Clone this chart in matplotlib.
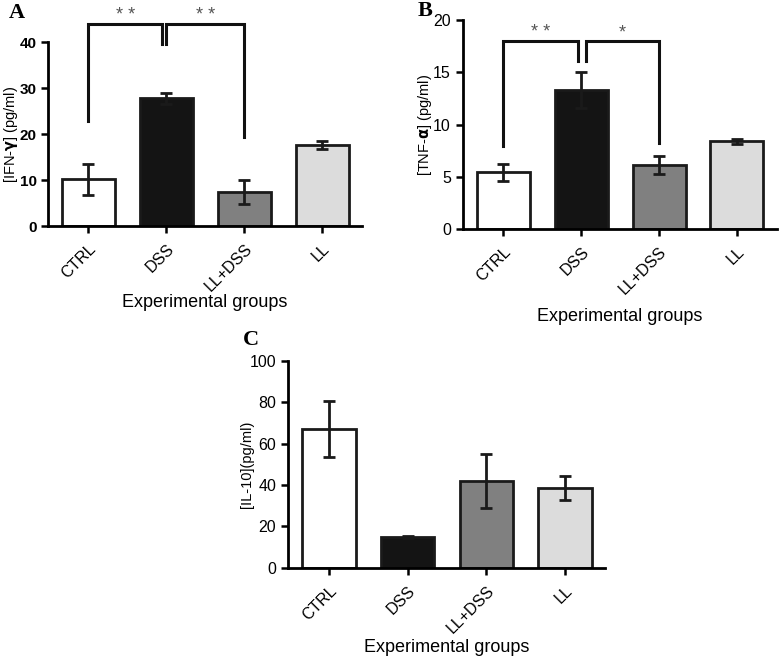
import matplotlib.pyplot as plt

plt.rcParams["font.family"] = ["Liberation Sans", "DejaVu Sans"]

groups = ["CTRL", "DSS", "LL+DSS", "LL"]
colors = ["white", "#141414", "#808080", "#dcdcdc"]

ifn_mean = [10.2, 27.8, 7.5, 17.6]
ifn_err = [3.4, 1.2, 2.6, 0.8]

tnf_mean = [5.4, 13.3, 6.1, 8.4]
tnf_err = [0.85, 1.7, 0.85, 0.25]

il10_mean = [67.0, 15.0, 42.0, 38.5]
il10_err = [13.5, 0.5, 13.0, 6.0]

# significance brackets: (x1, x2, leg1 bottom, leg2 bottom, top, label)
ifn_sig = [(0, 0.95, 22.9, 39.7, 43.9, "* *"), (1.0, 2, 39.7, 19.3, 43.9, "* *")]
tnf_sig = [(0, 0.96, 7.9, 16.1, 18.0, "* *"), (1.06, 2, 16.1, 8.2, 18.0, "*")]


def draw_panel(ax, means, errs, ymax, ystep, ylabel, ylab_x, xlab_y, bold_ticks=False):
    x = list(range(len(groups)))
    ax.bar(x, means, width=0.68, color=colors, edgecolor="#1a1a1a", linewidth=2, zorder=2)
    ax.errorbar(x, means, yerr=errs, fmt="none", ecolor="#1a1a1a", elinewidth=2,
                capsize=4.5, capthick=2, zorder=3)
    ax.set_xlim(-0.52, 3.51)
    ax.set_ylim(0, ymax)
    ax.set_yticks(range(0, ymax + 1, ystep))
    ax.set_xticks(x)
    ax.set_xticklabels(groups, rotation=45, ha="right", rotation_mode="anchor", fontsize=11.5)
    ax.spines["top"].set_visible(False)
    ax.spines["right"].set_visible(False)
    ax.spines["left"].set_linewidth(2)
    ax.spines["bottom"].set_linewidth(2)
    ax.tick_params(width=1.8, length=5, labelsize=11.5)
    ax.tick_params(axis="x", pad=6)
    if bold_ticks:
        ax.tick_params(axis="y", labelsize=11, pad=3)
        for t in ax.get_yticklabels():
            t.set_fontweight("bold")
    ax.set_ylabel(ylabel, fontsize=10.5)
    ax.yaxis.set_label_coords(ylab_x, 0.5)
    ax.yaxis.label.set_va("center")
    ax.set_xlabel("Experimental groups", fontsize=13)
    ax.xaxis.set_label_coords(0.5, xlab_y)
    ax.xaxis.label.set_va("center")


def draw_sig(ax, sigs, dy):
    for x1, x2, b1, b2, top, lab in sigs:
        ax.plot([x1, x1, x2, x2], [b1, top, top, b2], color="#111111", lw=2.2,
                clip_on=False, solid_joinstyle="miter")
        ax.text((x1 + x2) / 2, top + dy, lab, ha="center", va="center",
                fontsize=13, color="#555555", clip_on=False)


fig = plt.figure(figsize=(7.79, 6.59), dpi=100)

axA = fig.add_axes([0.0616, 0.657, 0.403, 0.279])
draw_panel(axA, ifn_mean, ifn_err, 40, 10, "[IFN-$\\mathbf{\\gamma}$] (pg/ml)",
           -0.118, -0.418, bold_ticks=True)
draw_sig(axA, ifn_sig, 1.8)

axB = fig.add_axes([0.594, 0.653, 0.403, 0.316])
draw_panel(axB, tnf_mean, tnf_err, 20, 5, "[TNF-$\\mathbf{\\alpha}$] (pg/ml)",
           -0.121, -0.42)
draw_sig(axB, tnf_sig, 0.8)

axC = fig.add_axes([0.3697, 0.1386, 0.407, 0.314])
draw_panel(axC, il10_mean, il10_err, 100, 20, "[IL-10](pg/ml)", -0.13, -0.388)

for lab, (px, py) in zip(["A", "B", "C"], [(0.021, 0.981), (0.546, 0.983), (0.322, 0.484)]):
    fig.text(px, py, lab, fontsize=16, fontweight="bold",
             family=["Liberation Serif", "DejaVu Serif"], va="center", ha="center")

fig.savefig("out.png", dpi=100)
